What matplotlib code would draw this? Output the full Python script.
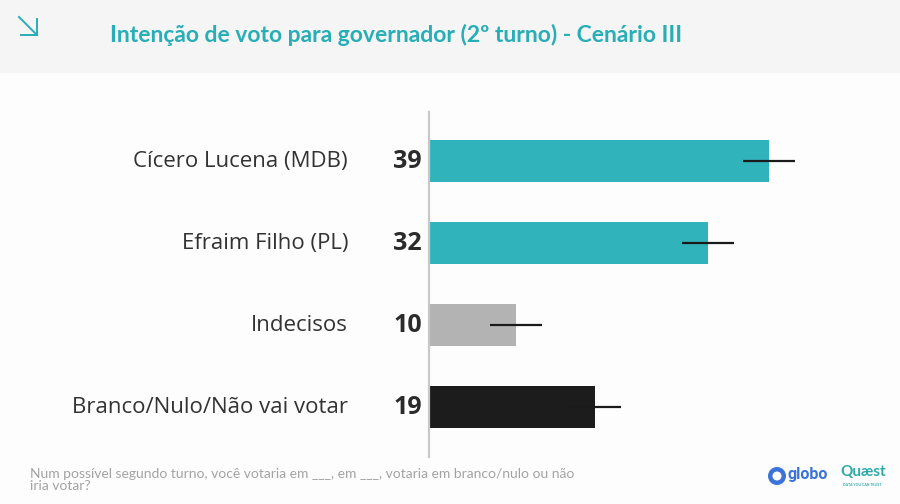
import numpy as np
import matplotlib
matplotlib.use("Agg")
import matplotlib.pyplot as plt
from matplotlib.patches import Rectangle, Ellipse
from matplotlib.lines import Line2D

# data
categories = ["Cícero Lucena (MDB)", "Efraim Filho (PL)", "Indecisos", "Branco/Nulo/Não vai votar"]
values = [39, 32, 10, 19]
margin = [3, 3, 3, 3]
bar_colors = ["#31b3bc", "#31b3bc", "#b3b3b3", "#1c1c1c"]

title = "Intenção de voto para governador (2º turno) - Cenário III"
footnote = ("Num possível segundo turno, você votaria em ___, em ___, votaria em branco/nulo ou não\n"
            "iria votar?")

W, H = 900, 504
fig = plt.figure(figsize=(W / 100, H / 100), dpi=100)
fig.patch.set_facecolor("#fdfdfd")


def px(x, y):
    """pixel (from top-left) -> figure fraction"""
    return x / W, 1 - y / H


# header band
fig.patches.append(Rectangle((0, 1 - 73 / H), 1, 73 / H, transform=fig.transFigure,
                             facecolor="#f5f5f5", edgecolor="none", zorder=0))
teal = "#27aeb6"
# little arrow icon
for (x0, y0, x1, y1) in [(19, 17, 37, 35), (21, 35, 37, 35), (37, 19, 37, 35)]:
    a, b = px(x0, y0)
    c, d = px(x1, y1)
    fig.add_artist(Line2D([a, c], [b, d], transform=fig.transFigure, color=teal, lw=1.4))

tx, ty = px(110, 35)
fig.text(tx, ty, title, family="Lato", weight="bold", fontsize=16.5, color=teal,
         ha="left", va="center")

# chart axes: zero at x=429px, 8.72 px per point
x0_px, scale = 429, 8.72
xmax = 50
ax = fig.add_axes([x0_px / W, 1 - 457 / H, xmax * scale / W, (457 - 112) / H])
ax.set_facecolor("none")
ypos = np.arange(len(categories))
ax.barh(ypos, values, height=0.51, color=bar_colors, zorder=2)
ax.errorbar(values, ypos, xerr=margin, fmt="none", ecolor="#1a1a1a", elinewidth=1.6,
            capsize=0, zorder=3)
ax.set_xlim(0, xmax)
ax.set_ylim(3.61, -0.6)
for s in ["top", "right", "bottom"]:
    ax.spines[s].set_visible(False)
ax.spines["left"].set_color("#c8c8c8")
ax.spines["left"].set_linewidth(1.6)
ax.set_xticks([])
ax.set_yticks([])

for i, (cat, v) in enumerate(zip(categories, values)):
    ax.annotate(cat, xy=(0, i), xytext=(-81 * 0.72, 0), textcoords="offset points",
                ha="right", va="center", family="Open Sans", fontsize=16, color="#333333")
    ax.annotate(str(v), xy=(0, i), xytext=(-7 * 0.72, 0), textcoords="offset points",
                ha="right", va="center", family="Open Sans", weight="bold", fontsize=18,
                color="#2b2b2b")

# footnote
fx, fy = px(30, 480)
fig.text(fx, fy, footnote, family="Lato", fontsize=10, color="#a3a3a3",
         ha="left", va="center", linespacing=1.1)

# logos (approximated)
cx, cy = px(777, 476)
fig.add_artist(Ellipse((cx, cy), 18 / W, 18 / H, transform=fig.transFigure,
                       facecolor="#3b73d9", edgecolor="none"))
fig.add_artist(Ellipse((cx, cy), 9 / W, 9 / H, transform=fig.transFigure,
                       facecolor="white", edgecolor="none"))
gx, gy = px(787, 475)
fig.text(gx, gy, "globo", family="Roboto", weight="bold", fontsize=11.5, color="#3b73d9",
         ha="left", va="center")
qx, qy = px(840, 472)
fig.text(qx, qy, "Quæst", family="Lato", weight="bold", fontsize=11, color="#2fa9a8",
         ha="left", va="center")
sx, sy = px(862, 485)
fig.text(sx, sy, "DATA YOU CAN TRUST", family="Lato", weight="bold", fontsize=2.5,
         color="#2fa9a8", ha="center", va="center")

fig.savefig("out.png", dpi=100, facecolor=fig.get_facecolor())
